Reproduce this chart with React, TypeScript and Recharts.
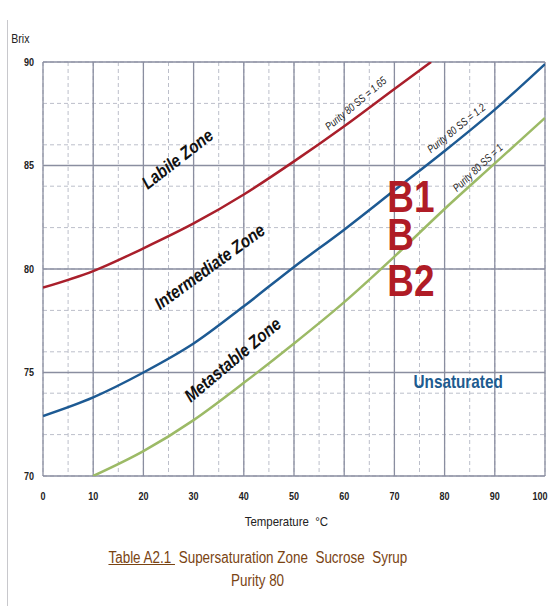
import { LineChart, Line, XAxis, YAxis, CartesianGrid, ReferenceDot } from "recharts";

const FONT = "'Liberation Sans', Arial, sans-serif";

const TEMP_TICKS = [0, 10, 20, 30, 40, 50, 60, 70, 80, 90, 100];
const BRIX_TICKS = [70, 75, 80, 85, 90];

// Purity 80, SS = 1.65 (labile boundary)
const SS165_TEMP = [0, 10, 20, 30, 40, 50, 60, 70, 77.3];
const SS165_BRIX = [79.1, 79.9, 81.0, 82.2, 83.6, 85.2, 86.9, 88.7, 90.0];
// Purity 80, SS = 1.2
const SS12_TEMP = [0, 10, 20, 30, 40, 50, 60, 70, 80, 90, 100];
const SS12_BRIX = [72.9, 73.8, 75.0, 76.4, 78.2, 80.1, 81.9, 83.8, 85.7, 87.7, 89.9];
// Purity 80, SS = 1 (saturation)
const SS1_TEMP = [10, 20, 30, 40, 50, 60, 70, 80, 90, 100];
const SS1_BRIX = [70.0, 71.2, 72.7, 74.5, 76.4, 78.4, 80.6, 82.9, 85.1, 87.3];

const ZONE_LABELS = [
  { text: "Labile Zone", t: 26.8, brix: 85.3, angle: -38 },
  { text: "Intermediate Zone", t: 33.2, brix: 80.1, angle: -36 },
  { text: "Metastable Zone", t: 37.8, brix: 75.6, angle: -40 },
];
const CURVE_LABELS = [
  { text: "Purity 80  SS = 1.65", t: 62.3, brix: 88.0, angle: -40 },
  { text: "Purity 80  SS = 1.2", t: 82.3, brix: 86.8, angle: -39 },
  { text: "Purity 80  SS = 1", t: 86.6, brix: 84.9, angle: -43 },
];
const B_LABELS = [
  { text: "B1", t: 68.6, brix: 82.77 },
  { text: "B", t: 68.6, brix: 80.93 },
  { text: "B2", t: 68.6, brix: 78.71 },
];

const toPoints = (temp: number[], brix: number[]) => temp.map((t, i) => ({ t, brix: brix[i] }));

const minorTemp: number[] = [];
for (let t = 0; t <= 100; t += 5) minorTemp.push(t);
const minorBrix: number[] = [];
for (let b = 70; b <= 90; b += 1) minorBrix.push(b);

// narrow-looking text: Arial-metric font squeezed horizontally
function NText({ x, y, angle = 0, sx = 0.85, children, ...rest }: any) {
  return (
    <text x={0} y={0} transform={`translate(${x},${y}) rotate(${angle}) scale(${sx},1)`} fontFamily={FONT} {...rest}>
      {children}
    </text>
  );
}

const XTick = (p: any) => (
  <NText x={p.x} y={p.y} sx={0.82} dy="0.71em" textAnchor="middle" fontSize={11} fontWeight={700} fill="#222">
    {p.payload.value}
  </NText>
);
const YTick = (p: any) => (
  <NText x={p.x} y={p.y} sx={0.82} dy="0.355em" textAnchor="end" fontSize={11} fontWeight={700} fill="#222">
    {p.payload.value}
  </NText>
);

const squeeze = (sx: number) => ({ display: "inline-block", transform: `scaleX(${sx})`, whiteSpace: "pre" as const });

export default function App() {
  return (
    <div style={{ position: "relative", width: 552, height: 606, background: "#fff", fontFamily: FONT }}>
      <style>{"body{margin:0}"}</style>
      <div style={{ position: "absolute", left: 7, top: 20, width: 1, height: 586, background: "#c8c8cc" }} />
      <LineChart width={552} height={606} margin={{ top: 62, right: 7, left: 0, bottom: 0 }}>
        <CartesianGrid verticalValues={minorTemp} horizontalValues={minorBrix} stroke="#bcbfca" strokeDasharray="4 3" fill="#fff" />
        <CartesianGrid verticalValues={TEMP_TICKS} horizontalValues={BRIX_TICKS} stroke="#8a8ea0" strokeWidth={1.3} />
        <XAxis
          type="number"
          dataKey="t"
          domain={[0, 100]}
          ticks={TEMP_TICKS}
          height={130}
          axisLine={false}
          tickLine={false}
          tickMargin={10}
          tick={XTick}
          allowDataOverflow
        />
        <YAxis
          type="number"
          dataKey="brix"
          domain={[70, 90]}
          ticks={BRIX_TICKS}
          width={43}
          axisLine={false}
          tickLine={false}
          tickMargin={3}
          tick={YTick}
          allowDataOverflow
        />
        <Line data={toPoints(SS165_TEMP, SS165_BRIX)} dataKey="brix" type="monotone" stroke="#a91f2b" strokeWidth={2.5} dot={false} isAnimationActive={false} />
        <Line data={toPoints(SS12_TEMP, SS12_BRIX)} dataKey="brix" type="monotone" stroke="#1d5a93" strokeWidth={2.5} dot={false} isAnimationActive={false} />
        <Line data={toPoints(SS1_TEMP, SS1_BRIX)} dataKey="brix" type="monotone" stroke="#9cba66" strokeWidth={2.5} dot={false} isAnimationActive={false} />
        {ZONE_LABELS.map((l) => (
          <ReferenceDot
            key={l.text}
            x={l.t}
            y={l.brix}
            r={0}
            shape={(p: any) => (
              <NText x={p.cx} y={p.cy} angle={l.angle} textAnchor="middle" dominantBaseline="central" fontSize={18} fontWeight={700} fontStyle="italic" fill="#111">
                {l.text}
              </NText>
            )}
          />
        ))}
        {CURVE_LABELS.map((l) => (
          <ReferenceDot
            key={l.text}
            x={l.t}
            y={l.brix}
            r={0}
            shape={(p: any) => (
              <NText x={p.cx} y={p.cy} angle={l.angle} sx={0.8} textAnchor="middle" dominantBaseline="central" fontSize={11} fontStyle="italic" fill="#222">
                {l.text}
              </NText>
            )}
          />
        ))}
        {B_LABELS.map((l) => (
          <ReferenceDot
            key={l.text}
            x={l.t}
            y={l.brix}
            r={0}
            shape={(p: any) => (
              <NText x={p.cx} y={p.cy} sx={0.84} textAnchor="start" fontSize={44} fontWeight={700} fill="#b01c26">
                {l.text}
              </NText>
            )}
          />
        ))}
        <ReferenceDot
          x={82.7}
          y={74.55}
          r={0}
          shape={(p: any) => (
            <NText x={p.cx} y={p.cy} textAnchor="middle" dominantBaseline="central" fontSize={18} fontWeight={700} fill="#1d5b8f">
              Unsaturated
            </NText>
          )}
        />
      </LineChart>
      <div style={{ position: "absolute", left: 10, top: 32, fontSize: 12, color: "#222" }}>
        <span style={squeeze(0.88)}>Brix</span>
      </div>
      <div style={{ position: "absolute", left: 0, width: 572, top: 514, textAlign: "center", fontSize: 13, color: "#222" }}>
        <span style={squeeze(0.88)}>Temperature  °C</span>
      </div>
      <div style={{ position: "absolute", left: 0, width: 516, top: 549, textAlign: "center", fontSize: 16, color: "#7a4413" }}>
        <span style={squeeze(0.84)}>
          <span style={{ textDecoration: "underline" }}>Table A2.1 </span>
          {" Supersaturation Zone  Sucrose  Syrup"}
        </span>
      </div>
      <div style={{ position: "absolute", left: 0, width: 516, top: 572, textAlign: "center", fontSize: 16, color: "#7a4413" }}>
        <span style={squeeze(0.84)}>Purity 80</span>
      </div>
    </div>
  );
}
